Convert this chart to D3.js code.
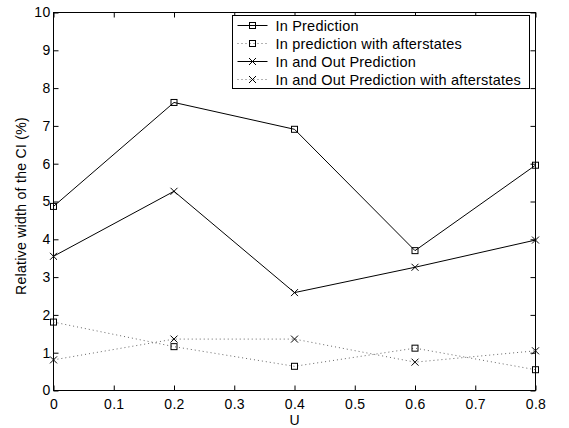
<!DOCTYPE html>
<html>
<head>
<meta charset="utf-8">
<script src="https://cdn.jsdelivr.net/npm/d3@7"></script>
<style>
  body { margin: 0; background: #fff; }
  svg text { font-family: "Liberation Sans", Arial, sans-serif; fill: #000; }
</style>
</head>
<body>
<svg id="chart"></svg>
<script>
// values
const uValues = [0, 0.2, 0.4, 0.6, 0.8];
const inPred = [4.87, 7.62, 6.91, 3.70, 5.96];
const inPredAfter = [1.81, 1.16, 0.64, 1.12, 0.55];
const inOutPred = [3.55, 5.27, 2.59, 3.26, 3.98];
const inOutPredAfter = [0.81, 1.36, 1.36, 0.75, 1.05];
const xTicks = [0, 0.1, 0.2, 0.3, 0.4, 0.5, 0.6, 0.7, 0.8];
const yTicks = [0, 1, 2, 3, 4, 5, 6, 7, 8, 9, 10];

const series = [
  { name: 'In Prediction', values: inPred, marker: 'square', dotted: false },
  { name: 'In prediction with afterstates', values: inPredAfter, marker: 'square', dotted: true },
  { name: 'In and Out Prediction', values: inOutPred, marker: 'cross', dotted: false },
  { name: 'In and Out Prediction with afterstates', values: inOutPredAfter, marker: 'cross', dotted: true }
];

const W = 569, H = 428;
const m = { left: 53.5, right: 33.5, top: 12.5, bottom: 37.5 };
const iw = W - m.left - m.right, ih = H - m.top - m.bottom;

const svg = d3.select('#chart').attr('width', W).attr('height', H);
const g = svg.append('g').attr('transform', `translate(${m.left},${m.top})`);

const x = d3.scaleLinear().domain([0, 0.8]).range([0, iw]);
const y = d3.scaleLinear().domain([0, 10]).range([ih, 0]);

// axes, ticks pointing inwards, mirrored on top/right
const tl = 5;
function styleAxis(sel) {
  sel.select('.domain').remove();
  sel.selectAll('line').attr('stroke', '#000').attr('stroke-width', 1);
  sel.selectAll('text').style('font-size', '14px').style('letter-spacing', '0.3px');
}
g.append('g').attr('transform', `translate(0,${ih})`)
  .call(d3.axisBottom(x).tickValues(xTicks).tickSize(-tl).tickPadding(9).tickFormat(d3.format('')))
  .call(styleAxis);
g.append('g')
  .call(d3.axisTop(x).tickValues(xTicks).tickSize(-tl).tickFormat(''))
  .call(styleAxis);
g.append('g')
  .call(d3.axisLeft(y).tickValues(yTicks).tickSize(-tl).tickPadding(3))
  .call(styleAxis);
g.append('g').attr('transform', `translate(${iw},0)`)
  .call(d3.axisRight(y).tickValues(yTicks).tickSize(-tl).tickFormat(''))
  .call(styleAxis);

g.append('rect').attr('width', iw).attr('height', ih)
  .attr('fill', 'none').attr('stroke', '#000').attr('stroke-width', 1);

// axis labels
g.append('text').attr('x', iw / 2).attr('y', ih + 34.5)
  .attr('text-anchor', 'middle').style('font-size', '14px').text('U');
svg.append('text')
  .attr('transform', `translate(26,206) rotate(-90)`)
  .attr('text-anchor', 'middle').style('font-size', '14px').style('letter-spacing', '0.3px')
  .text('Relative width of the CI (%)');

// markers
function drawMarker(sel, type, cx, cy) {
  if (type === 'square') {
    sel.append('rect').attr('x', cx - 3).attr('y', cy - 3)
      .attr('width', 6).attr('height', 6)
      .attr('fill', 'none').attr('stroke', '#000').attr('stroke-width', 1);
  } else {
    const s = 3.5;
    sel.append('path')
      .attr('d', `M${cx - s},${cy - s}L${cx + s},${cy + s}M${cx - s},${cy + s}L${cx + s},${cy - s}`)
      .attr('stroke', '#000').attr('stroke-width', 1);
  }
}

const line = d3.line().x((d, i) => x(uValues[i])).y(d => y(d));

series.forEach(s => {
  g.append('path').datum(s.values)
    .attr('d', line)
    .attr('fill', 'none')
    .attr('stroke', s.dotted ? '#666' : '#000')
    .attr('stroke-width', 1)
    .attr('stroke-dasharray', s.dotted ? '1,3' : null);
  const mg = g.append('g');
  s.values.forEach((v, i) => drawMarker(mg, s.marker, x(uValues[i]), y(v)));
});

// legend
const lg = svg.append('g').attr('transform', 'translate(232.5,15.5)');
lg.append('rect').attr('width', 297).attr('height', 73)
  .attr('fill', '#fff').attr('stroke', '#000').attr('stroke-width', 1);
series.forEach((s, i) => {
  const ly = 10 + i * 18;
  lg.append('line').attr('x1', 5).attr('x2', 35).attr('y1', ly).attr('y2', ly)
    .attr('stroke', s.dotted ? '#666' : '#000').attr('stroke-width', 1)
    .attr('stroke-dasharray', s.dotted ? '1,3' : null);
  drawMarker(lg, s.marker, 20, ly);
  lg.append('text').attr('x', 43).attr('y', ly + 5)
    .style('font-size', '14.5px').style('letter-spacing', '0.2px').text(s.name);
});
</script>
</body>
</html>
